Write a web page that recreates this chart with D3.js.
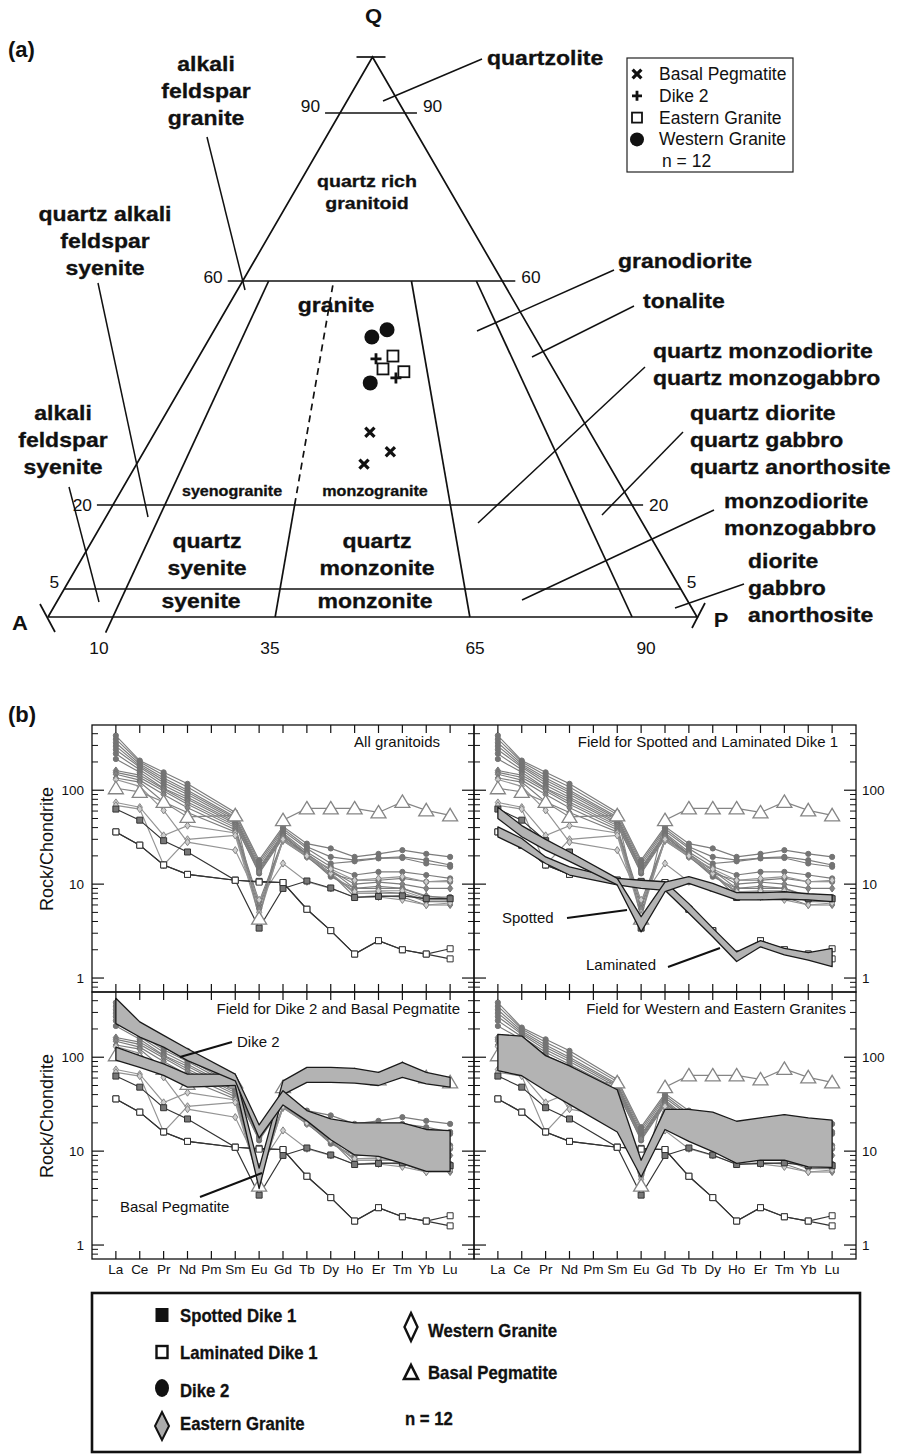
<!DOCTYPE html>
<html>
<head>
<meta charset="utf-8">
<script src="https://cdn.jsdelivr.net/npm/d3@7/dist/d3.min.js"></script>
<style>
body { margin: 0; background: #fff; }
svg { display: block; font-family: "Liberation Sans", Arial, Helvetica, sans-serif; }
</style>
</head>
<body>
<div id="chart"></div>
<script>
const W = 898, H = 1455

// ---------- (a) QAP data
const qLevels = [90, 60, 20, 5]
const pLevels = [10, 35, 65, 90]
const basalQ = [33.0, 29.5, 27.3], basalP = [49.4, 53.9, 48.2]
const dike2Q = [46.1, 42.7], dike2P = [51.0, 56.3]
const easternQ = [46.6, 44.3, 43.8], easternP = [55.9, 52.9, 58.6]
const westernQ = [50.0, 51.3, 41.8], westernP = [49.8, 54.6, 49.4]
const qapLegend = ["Basal Pegmatite", "Dike 2", "Eastern Granite", "Western Granite"]

// ---------- (b) REE data (rock / chondrite), Pm not analysed
const elements = ["La", "Ce", "Pr", "Nd", "Pm", "Sm", "Eu", "Gd", "Tb", "Dy", "Ho", "Er", "Tm", "Yb", "Lu"]
const yTickLabels = [1, 10, 100]

const dike2REE = [
    [382, 207, 155, 117, null, 58, 18, 41, 27, 24, 19.5, 21, 23, 21, 19.5],
    [350, 200, 144, 108, null, 55, 17, 39, 25, 19.5, 18, 19, 19.5, 18, 16],
    [320, 190, 135, 100, null, 52, 16, 37, 24, 16.6, 17.5, 18.8, 19, 16.6, 15.3],
    [295, 182, 128, 95, null, 50, 15, 35, 22, 15.3, 12.5, 13.5, 13.5, 12.5, 11.5],
    [270, 176, 120, 90, null, 48, 14.5, 34, 21, 13, 11, 11, 11.5, 10.6, 10.6],
    [245, 165, 113, 84, null, 46, 14, 33, 20, 12, 9, 9, 9, 7.3, 7.3],
    [215, 155, 105, 80, null, 44, 13, 31, 19.5, 12.5, 8.3, 8.3, 8, 6.8, 6.8]
]
const easternREE = [
    [162, 145, 103, 75, null, 42, 13.5, 32, 21, 14, 9, 9.5, 9, 7.5, 7.0],
    [155, 137, 98, 71, null, 40, 6.5, 30, 20, 13, 8, 8, 8, 6.5, 6.5],
    [148, 128, 90, 65, null, 38, 6, 29, 19.5, 13, 7.3, 7.5, 7.3, 6.0, 6.0],
    [135, 122, 75, 58, null, 36, 5.5, 30, 21, 14, 10, 10.5, 10, 9, 9]
]
const westernREE = [
    [74, 66, 33, 42, null, 35, 5, 29, 20, 13, 8.3, 8.5, 8.5, 7, 6.8],
    [69, 63, 16, 30, null, 33, 4.6, 30, 20, 14.5, 11, 11.5, 12, 10.6, 11],
    [130, 110, 61, 28, null, 23, 6.8, 16.6, 10.6, 9, 7.3, 7.3, 6.8, 6.0, 6.3]
]
const spottedREE = [
    [63, 48, 29, 22, null, 11, 3.4, 9, 10.8, 9.1, 7.2, 7.4, 7.5, 7.0, 7.0]
]
const laminatedREE = [
    [36, 26, 16, 12.7, null, 11, 10.7, 10.4, 5.4, 3.2, 1.8, 2.5, 2.0, 1.8, 2.05],
    [36, 26, 16, 12.7, null, 11, 10.5, 10.4, 5.4, 3.2, 1.8, 2.5, 2.0, 1.8, 1.6]
]
const basalREE = [
    [105, 96, 75, 52, null, 54, 4.3, 48, 64, 64, 64, 58, 75, 61, 54]
]

// fields (upper / lower envelopes)
const spottedHi = [66, 42, 30, 22, null, 11.5, 4.5, 10.5, 12, 10.2, 8.1, 8.1, 8.3, 7.9, 7.7]
const spottedLo = [50, 32, 23, 17.5, null, 9.8, 3.1, 8.3, 10.2, 8.3, 6.8, 6.8, 6.9, 6.8, 6.5]
const laminatedHi = [40.7, 30.6, 19.5, 15.3, null, 11.5, 11, 10.6, 6.2, 3.4, 1.9, 2.5, 2.07, 1.86, 2.07]
const laminatedLo = [31.8, 24, 16.6, 12.5, null, 9.8, 9, 8.6, 4.9, 2.75, 1.5, 2.15, 1.76, 1.55, 1.32]
const dike2Hi = [424, 238, 171, 123, null, 66, 19, 44, 27, 22, 20, 20, 20, 17, 16.5]
const dike2Lo = [228, 164, 128, 92, null, 56, 13.8, 31, 21, 13.2, 9.1, 8.8, 7.4, 6.1, 6.1]
const basalHi = [128, 104, 85, 66, null, 66, 6.6, 56, 78, 78, 76, 69, 88, 69, 61]
const basalLo = [93, 78, 64, 48, null, 50, 4.0, 40, 54, 54, 53, 50, 61, 52, 48]
const graniteHi = [175, 168, 104, 81, null, 45, 8, 27.8, 27.8, 26, 20.8, 22.6, 24.5, 22.6, 21.4]
const graniteLo = [72, 63.5, 44, 31.5, null, 16, 5.3, 17, 12.7, 9.9, 7.4, 8, 8, 6.8, 6.7]

const svg = d3.select("#chart").append("svg")
    .attr("width", W)
    .attr("height", H)

function txt(parent, x, y, s, size, anchor, weight, sx) {
    return parent.append("text")
        .attr("transform", "translate(" + x + "," + y + ") scale(" + (sx || 1) + ",1)")
        .attr("text-anchor", anchor || "start")
        .attr("font-size", size)
        .attr("font-weight", weight || "normal")
        .attr("fill", "#111")
        .text(s)
}
function seg(parent, x1, y1, x2, y2, sw, col) {
    return parent.append("line")
        .attr("x1", x1).attr("y1", y1).attr("x2", x2).attr("y2", y2)
        .attr("stroke", col || "#111").attr("stroke-width", sw || 1.6)
}

// =============== (a) QAP triangle ===============
const qScale = d3.scaleLinear().domain([0, 100]).range([617, 57])
const pScale = d3.scaleLinear().domain([0, 100]).range([48, 697])
const apexX = pScale(50)
const tern = (q, p) => [pScale(p) * (1 - q / 100) + apexX * q / 100, qScale(q)]

const ga = svg.append("g")
txt(ga, 8, 57, "(a)", 22, "start", "bold")

const A = tern(0, 0), P = tern(0, 100), Q = tern(100, 0)
ga.append("path")
    .attr("d", d3.line()([A, Q, P, A]))
    .attr("fill", "none").attr("stroke", "#111").attr("stroke-width", 1.7)

// vertex ticks + names
seg(ga, Q[0] - 16, Q[1], Q[0] + 13, Q[1], 1.7)
seg(ga, A[0] - 8, A[1] - 13, A[0] + 7, A[1] + 15, 1.7)
seg(ga, P[0] - 5, P[1] + 11, P[0] + 8, P[1] - 14, 1.7)
txt(ga, Q[0] + 1, 23, "Q", 20, "middle", "bold", 1.1)
txt(ga, A[0] - 28, 630, "A", 20, "middle", "bold", 1.1)
txt(ga, P[0] + 24, 627, "P", 20, "middle", "bold", 1.1)

// horizontal Q levels
const qExt = { 90: [15, 12], 60: [15, 13], 20: [16, 11], 5: [0, 0] }
const qLabDy = { 90: -1, 60: 2, 20: 6, 5: -1 }
qLevels.forEach(q => {
    const l = tern(q, 0), r = tern(q, 100)
    seg(ga, l[0] - qExt[q][0], l[1], r[0] + qExt[q][1], r[1], 1.7)
    txt(ga, l[0] - qExt[q][0] - 5, l[1] + qLabDy[q], q, 16.5, "end", "normal", 1.05)
    txt(ga, r[0] + qExt[q][1] + 6, r[1] + qLabDy[q], q, 16.5, "start", "normal", 1.05)
})

// P/(A+P) lines
pLevels.forEach(p => {
    const q0 = p === 10 ? -2.8 : 0
    if (p === 35) {
        ga.append("path").attr("d", d3.line()([tern(0, p), tern(20, p)]))
            .attr("stroke", "#111").attr("stroke-width", 1.7)
        ga.append("path").attr("d", d3.line()([tern(20, p), tern(60, p)]))
            .attr("stroke", "#111").attr("stroke-width", 1.7).attr("stroke-dasharray", "7,5")
    } else {
        ga.append("path").attr("d", d3.line()([tern(q0, p), tern(60, p)]))
            .attr("stroke", "#111").attr("stroke-width", 1.7)
    }
    const lp = tern(-5.4, p)
    txt(ga, lp[0], lp[1] + 7, p, 16.5, "middle", "normal", 1.05)
})

// leader lines
const leaders = [
    [383, 101, 482, 59], [207, 137, 245, 290], [98, 283, 148, 517], [69, 487, 99, 602],
    [614, 270, 477, 331], [634, 306, 532, 357], [645, 367, 478, 523], [683, 432, 602, 515],
    [714, 510, 522, 600], [744, 584, 675, 608]
]
leaders.forEach(d => seg(ga, d[0], d[1], d[2], d[3], 1.5))

const qapLabels = [
    { t: ["alkali", "feldspar", "granite"], x: 206, y: 71, a: "middle" },
    { t: ["quartz rich", "granitoid"], x: 367, y: 187, a: "middle", s: 17, lh: 22 },
    { t: ["quartz alkali", "feldspar", "syenite"], x: 105, y: 221, a: "middle" },
    { t: ["granite"], x: 336, y: 312, a: "middle" },
    { t: ["quartzolite"], x: 487, y: 65, a: "start" },
    { t: ["granodiorite"], x: 618, y: 268, a: "start" },
    { t: ["tonalite"], x: 643, y: 308, a: "start" },
    { t: ["quartz monzodiorite", "quartz monzogabbro"], x: 653, y: 358, a: "start" },
    { t: ["quartz diorite", "quartz gabbro", "quartz anorthosite"], x: 690, y: 420, a: "start" },
    { t: ["monzodiorite", "monzogabbro"], x: 724, y: 508, a: "start" },
    { t: ["diorite", "gabbro", "anorthosite"], x: 748, y: 568, a: "start" },
    { t: ["alkali", "feldspar", "syenite"], x: 63, y: 420, a: "middle" },
    { t: ["syenogranite"], x: 232, y: 496, a: "middle", s: 14 },
    { t: ["monzogranite"], x: 375, y: 496, a: "middle", s: 14 },
    { t: ["quartz", "syenite"], x: 207, y: 548, a: "middle" },
    { t: ["quartz", "monzonite"], x: 377, y: 548, a: "middle" },
    { t: ["syenite"], x: 201, y: 608, a: "middle" },
    { t: ["monzonite"], x: 375, y: 608, a: "middle" }
]
qapLabels.forEach(l => {
    l.t.forEach((s, i) => {
        txt(ga, l.x, l.y + i * (l.lh || 27), s, l.s || 20, l.a, "bold", 1.15)
            .attr("stroke", "#111").attr("stroke-width", 0.3)
    })
})

// symbols
function xMark(g, x, y, r) {
    g.append("path").attr("d", `M${x - r},${y - r}L${x + r},${y + r}M${x + r},${y - r}L${x - r},${y + r}`)
        .attr("stroke", "#111").attr("stroke-width", 3.2).attr("fill", "none")
}
function plusMark(g, x, y, r) {
    g.append("path").attr("d", `M${x - r},${y}L${x + r},${y}M${x},${y - r}L${x},${y + r}`)
        .attr("stroke", "#111").attr("stroke-width", 2.8).attr("fill", "none")
}
function sqMark(g, x, y, r) {
    g.append("rect").attr("x", x - r).attr("y", y - r).attr("width", 2 * r).attr("height", 2 * r)
        .attr("fill", "#fff").attr("stroke", "#111").attr("stroke-width", 1.8)
}
function dotMark(g, x, y, r) {
    g.append("circle").attr("cx", x).attr("cy", y).attr("r", r).attr("fill", "#111")
}

westernQ.forEach((q, i) => { const c = tern(q, westernP[i]); dotMark(ga, c[0], c[1], 7.5) })
easternQ.forEach((q, i) => { const c = tern(q, easternP[i]); sqMark(ga, c[0], c[1], 5.5) })
dike2Q.forEach((q, i) => { const c = tern(q, dike2P[i]); plusMark(ga, c[0], c[1], 5.5) })
basalQ.forEach((q, i) => { const c = tern(q, basalP[i]); xMark(ga, c[0], c[1], 4.6) })

// legend (a)
const la = ga.append("g")
la.append("rect").attr("x", 627).attr("y", 58).attr("width", 166).attr("height", 114)
    .attr("fill", "#fff").attr("stroke", "#222").attr("stroke-width", 1.2)
const laMarks = [xMark, plusMark, sqMark, dotMark]
const laR = [4.4, 5, 5, 7]
qapLegend.forEach((s, i) => {
    const yy = 74 + i * 21.8
    laMarks[i](la, 637, yy, laR[i])
    txt(la, 659, yy + 6, s, 17.5)
})
txt(la, 662, 167, "n = 12", 17.5)

// =============== (b) REE panels ===============
const gb = svg.append("g")
txt(gb, 8, 722, "(b)", 22, "start", "bold")

const cols = [92, 474], rows = [725, 992], pw = 382, ph = 267
const yDomain = [0.71, 495]

const groups = [
    { samples: dike2REE, line: "#7c7c7c", mark: "circle", fill: "#747474", stroke: "#747474" },
    { samples: easternREE, line: "#7c7c7c", mark: "diamond", fill: "#858585", stroke: "#747474" },
    { samples: westernREE, line: "#949494", mark: "diamond", fill: "#cfcfcf", stroke: "#858585" },
    { samples: spottedREE, line: "#333", mark: "square", fill: "#777", stroke: "#333" },
    { samples: laminatedREE, line: "#333", mark: "square", fill: "#fff", stroke: "#333" },
    { samples: basalREE, line: "#858585", mark: "triangle", fill: "#fff", stroke: "#858585" }
]
const markPath = {
    circle: "M2.6,0A2.6,2.6,0,1,1,-2.6,0A2.6,2.6,0,1,1,2.6,0Z",
    diamond: "M0,-3.6L2.6,0L0,3.6L-2.6,0Z",
    square: "M-3,-3H3V3H-3Z",
    triangle: "M0,-7L7.5,5.5H-7.5Z"
}

const panels = [
    { col: 0, row: 0, title: "All granitoids", tdx: 34, fields: [] },
    { col: 1, row: 0, title: "Field for Spotted and Laminated Dike 1", tdx: 18,
      fields: [[laminatedHi, laminatedLo], [spottedHi, spottedLo]] },
    { col: 0, row: 1, title: "Field for Dike 2 and Basal Pegmatite", tdx: 14,
      fields: [[basalHi, basalLo], [dike2Hi, dike2Lo]] },
    { col: 1, row: 1, title: "Field for Western and Eastern Granites", tdx: 10,
      fields: [[graniteHi, graniteLo]] }
]

const minorTicks = []
;[0.1, 1, 10, 100].forEach(dec => {
    for (let k = 2; k <= 9; k++) {
        const v = k * dec
        if (v > yDomain[0] && v < yDomain[1]) minorTicks.push(v)
    }
})

function drawPanel(p) {
    const x0 = cols[p.col], y0 = rows[p.row]
    const x = d3.scalePoint().domain(elements).range([x0, x0 + pw]).padding(1)
    const y = d3.scaleLog().domain(yDomain).range([y0 + ph, y0])
    const g = gb.append("g")
    const pts = arr => elements.map((el, i) => ({ el: el, v: arr[i] })).filter(d => d.v != null)
    const line = d3.line().x(d => x(d.el)).y(d => y(d.v))

    groups.forEach(gr => {
        gr.samples.forEach(s => {
            g.append("path").attr("d", line(pts(s)))
                .attr("fill", "none").attr("stroke", gr.line).attr("stroke-width", 1.15)
        })
    })
    groups.forEach(gr => {
        gr.samples.forEach(s => {
            g.selectAll(null).data(pts(s)).enter().append("path")
                .attr("d", markPath[gr.mark])
                .attr("transform", d => "translate(" + x(d.el) + "," + y(d.v) + ")")
                .attr("fill", gr.fill).attr("stroke", gr.stroke)
                .attr("stroke-width", gr.mark === "triangle" ? 1.3 : 1)
        })
    })

    const area = d3.area().x(d => x(d.el)).y0(d => y(d.lo)).y1(d => y(d.hi))
    p.fields.forEach(f => {
        const data = elements.map((el, i) => ({ el: el, hi: f[0][i], lo: f[1][i] })).filter(d => d.hi != null)
        g.append("path").attr("d", area(data) + "")
            .attr("fill", "#b3b3b3").attr("stroke", "#1a1a1a").attr("stroke-width", 1.3)
            .attr("stroke-linejoin", "round")
    })

    // frame
    g.append("rect").attr("x", x0).attr("y", y0).attr("width", pw).attr("height", ph)
        .attr("fill", "none").attr("stroke", "#111").attr("stroke-width", 1.3)

    // inward ticks
    elements.forEach(el => {
        seg(g, x(el), y0, x(el), y0 + 8, 1.2)
        seg(g, x(el), y0 + ph, x(el), y0 + ph - 8, 1.2)
    })
    yTickLabels.forEach(v => {
        seg(g, x0, y(v), x0 + 12, y(v), 1.2)
        seg(g, x0 + pw, y(v), x0 + pw - 12, y(v), 1.2)
    })
    minorTicks.forEach(v => {
        seg(g, x0, y(v), x0 + 6, y(v), 1)
        seg(g, x0 + pw, y(v), x0 + pw - 6, y(v), 1)
    })

    // labels
    yTickLabels.forEach(v => {
        if (p.col === 0) txt(g, x0 - 8, y(v) + 5, v, 13.5, "end")
        else txt(g, x0 + pw + 6, y(v) + 5, v, 13.5, "start")
    })
    if (p.row === 1) {
        elements.forEach(el => txt(g, x(el), y0 + ph + 15, el, 13.5, "middle"))
    }
    if (p.col === 0) {
        g.append("text")
            .attr("transform", "translate(" + 53 + "," + (y0 + 124) + ") rotate(-90)")
            .attr("text-anchor", "middle").attr("font-size", 18).attr("fill", "#111")
            .text("Rock/Chondrite")
    }
    txt(g, x0 + pw - p.tdx, y0 + 22, p.title, 15, "end")
}
panels.forEach(drawPanel)

// field annotations
const annot = [
    { t: "Spotted", x: 502, y: 923, l: [567, 918, 627, 910] },
    { t: "Laminated", x: 586, y: 970, l: [668, 967, 720, 948] },
    { t: "Dike 2", x: 237, y: 1047, l: [232, 1042, 180, 1057] },
    { t: "Basal Pegmatite", x: 120, y: 1212, l: [200, 1197, 262, 1173] }
]
annot.forEach(a => {
    txt(gb, a.x, a.y, a.t, 15)
    seg(gb, a.l[0], a.l[1], a.l[2], a.l[3], 2)
})

// legend (b)
const lb = svg.append("g")
lb.append("rect").attr("x", 92).attr("y", 1293).attr("width", 768).attr("height", 159)
    .attr("fill", "none").attr("stroke", "#111").attr("stroke-width", 2.6)

lb.append("rect").attr("x", 155.5).attr("y", 1308).attr("width", 13).attr("height", 14).attr("fill", "#111")
lb.append("rect").attr("x", 156.5).attr("y", 1346).attr("width", 11).attr("height", 12)
    .attr("fill", "#fff").attr("stroke", "#111").attr("stroke-width", 2.4)
lb.append("ellipse").attr("cx", 162).attr("cy", 1388).attr("rx", 7).attr("ry", 9).attr("fill", "#111")
lb.append("path").attr("d", "M162,1412L169,1426L162,1440L155,1426Z")
    .attr("fill", "#aaa").attr("stroke", "#111").attr("stroke-width", 2)
lb.append("path").attr("d", "M411,1313L417.5,1327L411,1341L404.5,1327Z")
    .attr("fill", "#fff").attr("stroke", "#111").attr("stroke-width", 2.4)
lb.append("path").attr("d", "M411,1365L418,1379H404Z")
    .attr("fill", "#fff").attr("stroke", "#111").attr("stroke-width", 2.6).attr("stroke-linejoin", "miter")

const legLeft = ["Spotted Dike 1", "Laminated Dike 1", "Dike 2", "Eastern Granite"]
const legLeftY = [1322, 1359, 1397, 1430]
legLeft.forEach((s, i) => txt(lb, 180, legLeftY[i], s, 18, "start", "bold", 0.93)
    .attr("stroke", "#111").attr("stroke-width", 0.3))
const legRight = ["Western Granite", "Basal Pegmatite"]
const legRightY = [1337, 1379]
legRight.forEach((s, i) => txt(lb, 428, legRightY[i], s, 18, "start", "bold", 0.93)
    .attr("stroke", "#111").attr("stroke-width", 0.3))
txt(lb, 405, 1425, "n = 12", 18, "start", "bold", 0.93).attr("stroke", "#111").attr("stroke-width", 0.3)
</script>
</body>
</html>
